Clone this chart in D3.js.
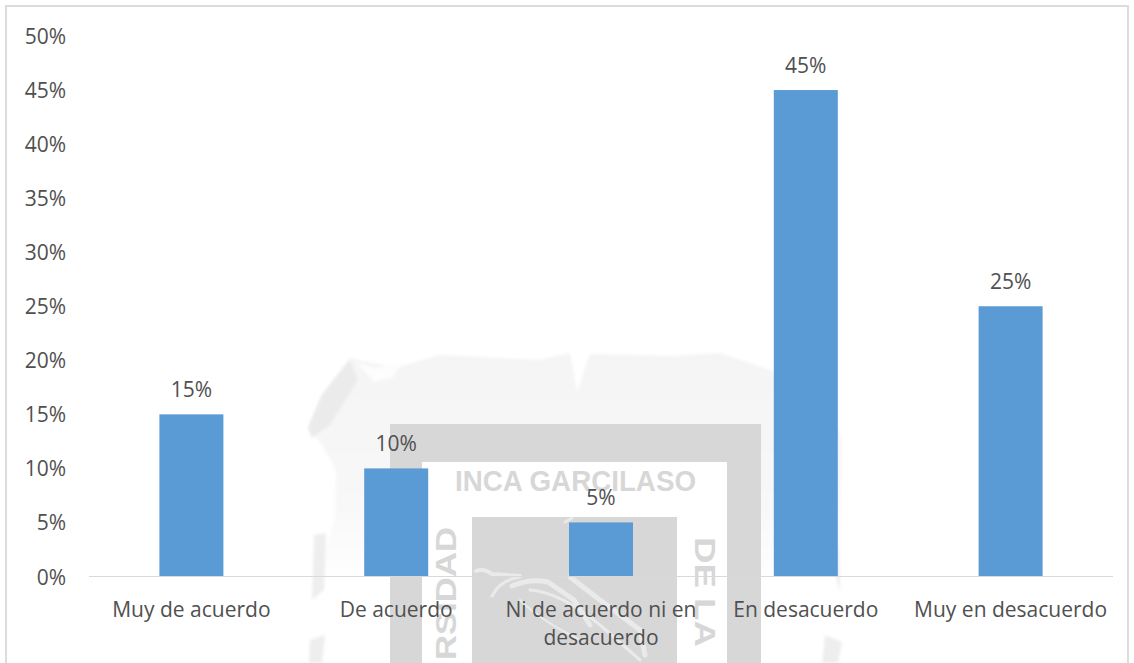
<!DOCTYPE html>
<html><head><meta charset="utf-8">
<style>html,body{margin:0;padding:0;background:#fff}svg{display:block}text{font-family:"Open Sans",sans-serif}.wm{font-family:"Liberation Sans",sans-serif;font-weight:bold}</style>
<script src="https://cdn.jsdelivr.net/npm/d3@7/dist/d3.min.js"></script></head><body>
<svg id="c" width="1134" height="663"></svg>
<script>
const categories=[["Muy de acuerdo"],["De acuerdo"],["Ni de acuerdo ni en","desacuerdo"],["En desacuerdo"],["Muy en desacuerdo"]];
const values=[15,10,5,45,25];
const tickValues=[0,5,10,15,20,25,30,35,40,45,50];
const svg=d3.select("#c");
const defs=svg.append("defs");
const g=defs.append("linearGradient").attr("id","fade").attr("x1",0).attr("x2",0).attr("y1",0).attr("y2",1);
g.append("stop").attr("offset","0").attr("stop-color","#f4f4f4");
g.append("stop").attr("offset","0.5").attr("stop-color","#f8f8f8");
g.append("stop").attr("offset","0.75").attr("stop-color","#ffffff");
defs.append("filter").attr("id","soft").append("feGaussianBlur").attr("stdDeviation",1.5);
defs.append("filter").attr("id","soft2").append("feGaussianBlur").attr("stdDeviation",0.7);
const wm=svg.append("g");
wm.append("path").attr("filter","url(#soft)").attr("d","M318 663 L322 560 L335 520 L336 470 L322 445 L308 428 L322 395 L350 358 L395 368 L440 355 L540 360 L570 353 L577 392 L590 354 L670 356 L720 353 L770 370 L830 400 L842 440 L840 560 L832 663 Z").attr("fill","url(#fade)");
wm.append("path").attr("filter","url(#soft)").attr("d","M356 362 L375 368 L402 362 L392 378 L374 382 Z").attr("fill","#fdfdfd");
wm.append("path").attr("filter","url(#soft)").attr("d","M350 360 L358 380 L330 425 L312 438 L308 428 L322 395 Z").attr("fill","#ebebeb");
wm.append("path").attr("filter","url(#soft)").attr("d","M314 535 L326 533 L324 590 L312 600 Z").attr("fill","#eeeeee");
wm.append("path").attr("filter","url(#soft)").attr("d","M310 640 L325 635 L322 663 L309 663 Z").attr("fill","#eeeeee");
wm.append("path").attr("filter","url(#soft)").attr("d","M838 535 L840 590 L842 600 L836 575 Z").attr("fill","#e8e8e8");
wm.append("path").attr("filter","url(#soft)").attr("d","M825 635 L842 642 L838 663 L822 663 Z").attr("fill","#eeeeee");
wm.append("rect").attr("x",390).attr("y",424).attr("width",371).attr("height",239).attr("fill","#d7d7d7");
wm.append("rect").attr("x",422).attr("y",462).attr("width",305).attr("height",201).attr("fill","#ffffff");
wm.append("rect").attr("x",472).attr("y",517).attr("width",205).attr("height",146).attr("fill","#d7d7d7");
const bird=wm.append("g").attr("fill","none").attr("stroke","#eaeaea").attr("stroke-linecap","round").attr("filter","url(#soft2)");
[["M476 571 Q484 568 492 574 L520 576",4],["M492 596 Q500 580 520 577",3],["M512 586 Q530 578 548 582 L574 600 L590 625",5],["M530 590 Q560 592 600 625 L640 660",3],["M570 577 L600 600 L640 630 L645 655",5],["M520 600 Q540 620 580 640",2],["M565 522 L572 518",3]]
 .forEach(([d,w])=>bird.append("path").attr("d",d).attr("stroke-width",w));
wm.append("text").attr("class","wm").attr("x",455).attr("y",491).attr("textLength",241).attr("lengthAdjust","spacingAndGlyphs").attr("font-size",29).attr("fill","#d7d7d7").text("INCA GARCILASO");
wm.append("text").attr("class","wm").attr("transform","translate(456,660) rotate(-90)").attr("textLength",133).attr("lengthAdjust","spacingAndGlyphs").attr("font-size",29).attr("fill","#d7d7d7").text("RSIDAD");
wm.append("text").attr("class","wm").attr("transform","translate(695,537) rotate(90)").attr("textLength",110).attr("lengthAdjust","spacingAndGlyphs").attr("font-size",29).attr("fill","#d7d7d7").text("DE LA");
svg.append("rect").attr("x",6).attr("y",6).attr("width",1122).attr("height",680).attr("fill","none").attr("stroke","#dcdcdc").attr("stroke-width",2);
const x=d3.scaleBand().domain(d3.range(categories.length)).range([89,1113]);
const y=d3.scaleLinear().domain([0,50]).range([576.5,36]);
const barW=64;
svg.append("g").selectAll("rect").data(values).join("rect")
 .attr("x",(d,i)=>x(i)+x.bandwidth()/2-barW/2).attr("width",barW)
 .attr("y",d=>y(d)).attr("height",d=>y(0)-y(d)).attr("fill","#5b9bd5");
svg.append("line").attr("x1",89).attr("x2",1113).attr("y1",576.5).attr("y2",576.5).attr("stroke","#d9d9d9");
const col="#505050",fs=21;
svg.append("g").selectAll("text").data(tickValues).join("text")
 .attr("x",66).attr("y",d=>y(d)+8).attr("text-anchor","end").attr("font-size",fs).attr("fill",col).text(d=>d+"%");
svg.append("g").selectAll("text").data(values).join("text")
 .attr("x",(d,i)=>x(i)+x.bandwidth()/2).attr("y",d=>y(d)-17).attr("text-anchor","middle").attr("font-size",fs).attr("fill",col).text(d=>d+"%");
categories.forEach((lines,i)=>lines.forEach((l,j)=>{
 svg.append("text").attr("x",x(i)+x.bandwidth()/2).attr("y",617+j*27.5).attr("text-anchor","middle").attr("font-size",fs).attr("fill",col).text(l);
}));
</script></body></html>
